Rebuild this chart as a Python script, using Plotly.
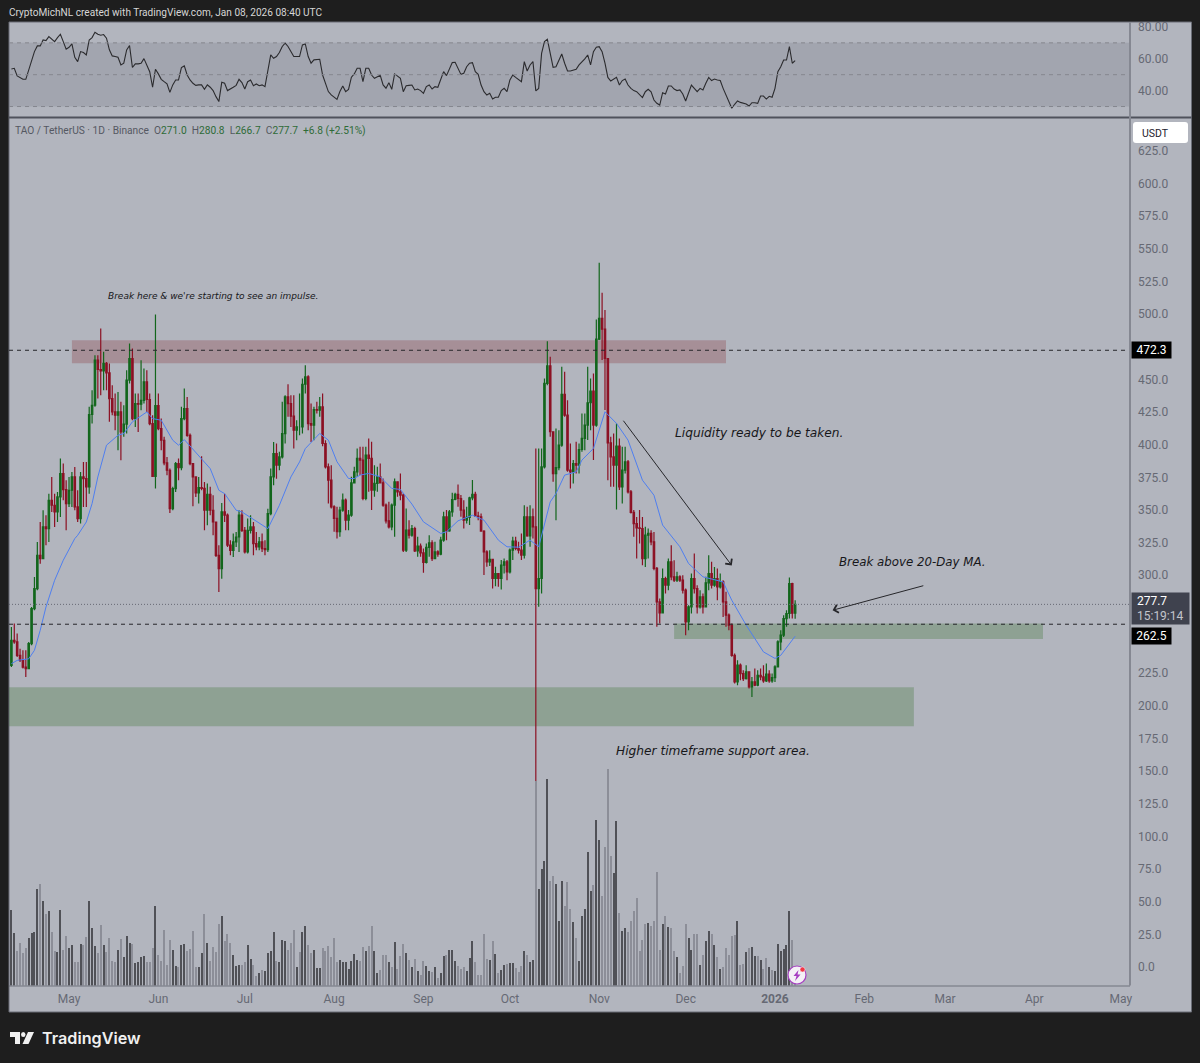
import pandas as pd
import plotly.graph_objects as go
from plotly.subplots import make_subplots

WIDTH = 1200
HEIGHT = 1063

# daily bars starting 2025-04-11
first_open = 231.0
closes = [
    250.2, 248.9, 238.7, 234.8, 229.7, 228.5, 247.6, 274.4, 289.8, 315.3,
    312.7, 337.0, 335.7, 357.4, 353.6, 348.5, 360.0, 377.9, 365.6, 354.9,
    365.1, 375.3, 352.3, 343.4, 375.3, 374.0, 367.7, 423.1, 430.2, 464.7,
    457.6, 456.5, 462.2, 455.0, 435.3, 425.1, 422.6, 425.1, 409.8, 415.7,
    449.4, 466.0, 420.0, 431.5, 431.0, 434.0, 448.1, 434.6, 416.2, 375.8,
    430.0, 412.3, 403.4, 386.0, 380.4, 351.0, 366.4, 385.5, 382.5, 420.0,
    427.7, 407.2, 385.5, 375.3, 363.0, 367.1, 366.6, 349.8, 362.0, 349.8,
    340.8, 315.3, 305.1, 348.5, 346.0, 323.0, 319.1, 325.5, 329.3, 346.0,
    334.4, 317.8, 334.4, 337.0, 324.2, 321.7, 325.5, 320.4, 319.6, 347.2,
    375.3, 393.2, 384.3, 390.6, 408.5, 436.6, 431.5, 421.8, 411.1, 413.6,
    413.6, 446.3, 451.9, 416.2, 415.0, 426.9, 426.4, 429.0, 400.9, 383.0,
    372.8, 352.4, 343.5, 333.3, 349.9, 357.5, 342.2, 346.0, 370.8, 379.2,
    389.5, 388.2, 358.8, 392.0, 389.5, 365.2, 370.3, 375.4, 370.8, 353.7,
    341.7, 337.1, 353.7, 371.6, 363.9, 361.4, 319.2, 334.5, 330.7, 335.8,
    318.7, 322.3, 317.2, 309.8, 321.3, 324.8, 312.8, 317.9, 316.2, 326.9,
    344.8, 334.0, 348.6, 358.0, 361.9, 358.8, 349.9, 342.2, 344.3, 359.3,
    361.9, 345.3, 344.8, 333.8, 317.9, 310.3, 312.1, 297.5, 301.3, 297.5,
    307.7, 310.3, 302.6, 319.2, 326.1, 320.5, 319.2, 315.4, 344.8, 330.2,
    344.8, 337.1, 289.8, 297.5, 383.0, 446.9, 460.4, 409.9, 377.9, 382.5,
    399.7, 438.5, 422.6, 380.5, 379.2, 385.6, 384.3, 396.3, 404.8, 415.0,
    432.1, 441.0, 415.0, 480.9, 496.7, 488.5, 466.0, 401.4, 390.7, 384.3,
    398.9, 367.7, 380.5, 386.9, 363.9, 348.1, 339.6, 336.3, 335.8, 312.8,
    330.7, 332.0, 325.6, 305.2, 279.6, 271.2, 297.5, 292.4, 310.3, 298.8,
    296.2, 298.8, 296.2, 288.6, 264.3, 275.8, 297.5, 289.8, 275.8, 283.4,
    275.8, 294.2, 301.3, 292.4, 297.5, 291.1, 294.9, 279.6, 269.4, 261.7,
    238.7, 218.3, 231.1, 224.7, 220.9, 226.0, 214.5, 218.3, 215.8, 223.4,
    222.1, 219.1, 224.2, 219.1, 221.6, 229.8, 249.0, 254.1, 266.8, 270.7,
    293.7, 271.0, 277.7,
]
highs = [
    260.4, 263.0, 255.3, 243.8, 242.5, 242.5, 248.9, 275.7, 298.7, 325.5,
    340.8, 349.8, 346.0, 362.5, 375.3, 362.5, 363.8, 389.4, 385.5, 372.8,
    375.3, 379.1, 383.0, 365.1, 379.1, 386.8, 386.8, 429.0, 441.7, 468.5,
    468.5, 489.0, 471.1, 463.4, 462.2, 445.5, 439.2, 440.4, 432.8, 430.2,
    457.0, 477.5, 473.6, 439.2, 439.2, 464.7, 458.3, 457.0, 439.2, 422.6,
    499.7, 439.2, 420.0, 406.0, 390.6, 381.7, 367.7, 386.8, 389.4, 429.0,
    443.0, 436.6, 408.5, 386.0, 375.3, 375.3, 391.2, 371.5, 370.2, 367.7,
    361.3, 340.8, 323.0, 355.4, 362.5, 347.2, 326.8, 331.9, 333.2, 349.8,
    349.8, 337.0, 343.4, 346.0, 340.8, 333.2, 329.3, 331.9, 326.8, 351.0,
    381.7, 402.1, 400.9, 394.5, 432.8, 437.9, 446.3, 437.9, 437.9, 418.7,
    439.2, 450.7, 460.9, 453.2, 431.5, 429.0, 432.8, 436.6, 439.2, 403.4,
    385.5, 384.3, 353.7, 352.4, 352.4, 362.6, 358.8, 349.9, 375.4, 383.1,
    397.1, 398.4, 398.4, 398.4, 404.8, 402.2, 384.3, 383.1, 385.6, 374.1,
    355.0, 356.3, 355.0, 374.1, 371.6, 378.0, 362.6, 351.1, 342.2, 338.4,
    337.1, 329.4, 324.3, 320.5, 324.3, 330.7, 326.9, 325.6, 319.2, 329.4,
    348.6, 349.9, 349.9, 363.2, 363.2, 369.5, 361.4, 357.5, 352.4, 360.1,
    372.9, 363.9, 348.6, 347.3, 334.5, 319.2, 319.2, 311.6, 306.5, 301.3,
    311.6, 312.8, 311.6, 320.5, 329.4, 329.4, 325.6, 332.0, 353.7, 352.4,
    353.7, 351.1, 397.1, 397.0, 397.0, 450.7, 479.3, 467.3, 406.0, 412.4,
    411.1, 459.7, 455.8, 434.1, 400.9, 388.2, 402.2, 400.9, 423.9, 423.9,
    459.7, 450.7, 454.6, 495.9, 539.4, 516.4, 503.1, 464.8, 406.0, 408.6,
    416.3, 404.8, 398.4, 398.4, 388.2, 365.2, 349.9, 344.7, 349.9, 344.7,
    337.1, 335.8, 334.5, 333.2, 306.4, 282.2, 305.2, 298.8, 312.8, 323.0,
    311.5, 302.6, 300.0, 300.0, 289.8, 277.1, 301.3, 316.7, 292.4, 288.6,
    286.0, 298.8, 315.4, 310.3, 306.4, 305.2, 301.3, 296.2, 287.3, 270.7,
    263.0, 240.0, 234.9, 232.4, 227.3, 231.1, 226.0, 222.1, 228.5, 227.3,
    228.5, 231.1, 232.4, 227.3, 224.7, 231.1, 250.2, 257.9, 269.4, 273.2,
    298.3, 294.2, 280.8,
]
lows = [
    229.7, 247.6, 237.4, 233.6, 228.5, 222.1, 228.5, 246.3, 273.2, 288.5,
    308.9, 312.7, 323.0, 325.5, 348.5, 337.0, 340.8, 344.7, 357.4, 334.4,
    352.3, 352.3, 349.8, 340.8, 339.6, 352.3, 352.3, 362.5, 416.2, 429.0,
    435.3, 437.9, 441.7, 441.7, 417.5, 422.6, 411.1, 395.7, 388.1, 406.0,
    408.5, 446.8, 418.7, 413.6, 409.8, 426.4, 431.5, 425.1, 414.9, 375.3,
    366.4, 411.1, 395.7, 384.3, 376.6, 347.7, 349.8, 363.8, 372.8, 380.4,
    418.7, 406.0, 384.3, 352.8, 360.0, 354.9, 365.1, 334.4, 338.3, 346.0,
    330.6, 314.0, 287.2, 297.4, 340.8, 321.7, 315.3, 314.0, 321.7, 317.8,
    333.2, 316.6, 316.6, 331.9, 315.3, 319.1, 319.1, 317.8, 315.3, 317.8,
    346.0, 368.9, 374.0, 380.4, 389.4, 400.9, 421.3, 413.6, 397.0, 403.4,
    407.2, 408.5, 439.2, 411.1, 402.1, 403.4, 423.8, 421.3, 398.8, 381.7,
    354.9, 351.1, 333.3, 328.2, 329.4, 348.6, 334.5, 334.5, 344.8, 370.3,
    375.4, 376.7, 357.5, 357.5, 363.9, 349.9, 360.1, 363.9, 370.3, 352.4,
    339.7, 335.8, 334.5, 329.4, 360.1, 357.5, 317.9, 317.9, 328.2, 329.4,
    317.9, 314.1, 314.1, 301.9, 309.0, 314.1, 311.0, 312.8, 314.1, 315.4,
    325.6, 326.9, 333.3, 344.8, 357.5, 352.4, 344.8, 335.8, 339.7, 338.4,
    357.5, 344.8, 342.2, 333.3, 300.1, 306.5, 307.0, 289.9, 291.6, 291.1,
    289.1, 301.3, 296.2, 301.3, 311.6, 319.2, 316.7, 311.6, 312.8, 329.4,
    321.8, 328.2, 140.6, 275.8, 286.0, 381.8, 445.6, 406.0, 371.6, 342.2,
    380.5, 398.4, 421.4, 379.2, 366.4, 370.3, 377.9, 377.9, 394.5, 395.8,
    403.5, 411.1, 388.2, 413.7, 480.1, 464.8, 426.5, 372.8, 367.7, 367.7,
    350.4, 365.2, 355.0, 378.0, 362.6, 347.3, 329.4, 312.8, 324.3, 307.7,
    306.4, 312.8, 323.0, 303.9, 260.5, 263.0, 270.7, 286.0, 288.6, 296.2,
    294.9, 294.9, 294.9, 286.0, 254.1, 257.9, 270.7, 286.0, 270.7, 274.5,
    270.7, 275.8, 288.6, 289.8, 291.1, 280.9, 289.8, 268.1, 260.5, 257.9,
    237.5, 217.0, 215.8, 219.6, 219.1, 220.1, 213.2, 206.8, 215.0, 215.0,
    219.6, 217.6, 218.3, 217.6, 217.6, 218.3, 229.3, 242.6, 252.8, 260.5,
    266.8, 266.8, 266.7,
]
volumes = [
    75.3, 52.3, 35.0, 42.3, 32.3, 37.3, 47.3, 52.3, 54.0, 97.0,
    102.0, 84.3, 71.3, 74.3, 54.0, 35.0, 33.3, 76.0, 35.7, 50.0,
    37.3, 40.7, 23.3, 24.0, 41.7, 40.7, 49.0, 84.3, 57.3, 39.7,
    32.3, 60.3, 40.7, 34.0, 47.3, 24.7, 24.0, 35.7, 46.3, 29.0,
    50.0, 42.3, 41.7, 22.3, 23.3, 29.0, 30.0, 23.3, 24.0, 37.3,
    79.3, 30.3, 24.7, 55.7, 20.3, 46.0, 35.7, 19.7, 18.3, 40.7,
    41.7, 35.0, 36.3, 55.0, 19.0, 19.0, 32.3, 71.3, 42.3, 24.7,
    39.0, 34.0, 61.7, 69.3, 45.0, 51.7, 42.3, 30.3, 19.7, 20.3,
    20.3, 24.0, 40.7, 26.3, 20.3, 9.7, 12.3, 15.3, 14.7, 33.0,
    34.7, 54.0, 24.7, 23.3, 45.7, 45.0, 35.7, 43.0, 55.7, 19.0,
    33.3, 54.0, 60.0, 40.7, 33.0, 35.7, 17.3, 17.3, 37.3, 34.7,
    39.7, 29.0, 47.3, 24.0, 25.3, 23.3, 23.3, 16.3, 24.7, 31.3,
    25.3, 24.7, 39.0, 34.7, 40.0, 60.0, 34.7, 12.3, 15.3, 30.7,
    30.7, 23.3, 18.3, 44.0, 16.3, 29.7, 41.3, 33.0, 25.3, 18.3,
    26.3, 14.7, 11.0, 24.7, 20.0, 14.3, 13.3, 18.7, 7.7, 12.7,
    29.3, 31.0, 35.3, 35.3, 24.7, 20.0, 16.7, 18.7, 15.0, 27.7,
    44.7, 23.7, 11.0, 11.0, 52.0, 26.7, 26.0, 44.7, 32.0, 12.7,
    16.0, 21.0, 22.0, 22.7, 22.7, 17.7, 13.3, 19.3, 34.3, 31.0,
    23.7, 26.0, 204.3, 96.7, 116.7, 125.0, 207.0, 105.0, 109.3, 101.7,
    64.7, 105.0, 80.0, 103.3, 76.3, 64.0, 48.0, 24.7, 70.0, 76.7,
    133.7, 95.0, 101.0, 166.0, 146.0, 90.0, 138.7, 217.0, 130.0, 112.7,
    164.7, 72.3, 54.7, 58.0, 53.3, 64.7, 74.7, 88.0, 34.7, 45.3,
    62.0, 62.7, 60.0, 64.7, 114.0, 35.3, 61.3, 70.0, 58.7, 57.3,
    34.7, 28.7, 12.7, 20.0, 62.0, 48.0, 36.0, 52.0, 52.0, 21.0,
    31.0, 44.7, 54.7, 51.3, 40.3, 28.7, 17.0, 18.7, 38.0, 31.0,
    49.3, 50.7, 64.7, 21.0, 22.0, 33.7, 37.7, 38.7, 29.3, 29.3,
    25.3, 17.0, 27.7, 18.7, 16.0, 14.3, 42.0, 34.3, 37.0, 40.3,
    74.7, 45.3, 13.0,
]
# D = darker bar, L = lighter bar
volume_side = list(
    "DDLLLLDDDD" "LDLDLLDDLL" "DDLLDLLDDD" "LLDLLLLDLD" "DDLDDDDLLL"
    "DLLLLLDDLD" "DLLLLDDLDL" "LLLDLLLDDD" "LLDDLLDLDD" "DDLDDDLLLD"
    "LDDLLDDDLL" "LLLLDDDDDD" "DLLDLLDDLL" "LDLDLLLDLD" "LDLLDDLDLD"
    "DLDDDLLLDD" "DLLLLLDLDL" "DDLDDLLLDL" "DDLDDDDLLD" "DDLLLDLDDD"
    "DDLDDLLLLD" "DLDDLLLLLL" "LDLLLLDLDL" "LDLLLDDLLD" "LDDLDLDLLL"
    "LLDLLDLDDL" "DLLDLDDDDD" "DLL"
)
rsi = [
    53.6, 54.0, 49.2, 48.2, 47.1, 47.1, 53.0, 59.3, 64.5, 68.1,
    68.1, 71.8, 71.4, 73.9, 72.3, 70.8, 73.3, 75.4, 70.8, 66.0,
    67.2, 69.3, 60.9, 58.2, 64.5, 63.9, 62.4, 71.8, 73.3, 76.7,
    75.4, 74.8, 75.2, 72.9, 65.6, 61.8, 61.4, 60.9, 56.1, 57.2,
    65.6, 68.3, 54.5, 56.8, 56.8, 57.2, 60.1, 56.1, 51.9, 42.1,
    53.4, 50.5, 47.1, 45.6, 44.2, 38.9, 43.6, 46.7, 46.7, 54.5,
    55.5, 49.8, 46.7, 44.6, 43.3, 43.6, 43.6, 40.8, 43.6, 42.1,
    40.0, 36.2, 33.1, 45.2, 44.6, 40.0, 40.8, 42.1, 43.3, 47.1,
    45.0, 41.0, 45.6, 46.7, 43.1, 44.2, 43.1, 43.6, 42.5, 53.0,
    62.4, 60.3, 61.4, 63.9, 67.7, 69.8, 67.7, 64.5, 61.4, 61.4,
    61.4, 68.7, 69.3, 61.4, 57.2, 59.3, 59.7, 59.7, 49.8, 44.6,
    39.4, 37.3, 35.8, 34.5, 39.4, 42.9, 39.4, 40.8, 48.4, 50.5,
    54.0, 54.0, 45.6, 54.0, 54.0, 49.8, 47.7, 48.8, 49.6, 43.6,
    41.5, 45.0, 40.8, 50.5, 48.8, 47.7, 39.3, 43.1, 43.3, 43.5,
    40.4, 41.0, 40.0, 38.3, 42.5, 43.5, 41.0, 42.5, 42.1, 46.7,
    51.9, 49.4, 53.0, 57.6, 57.8, 54.0, 50.2, 50.9, 55.0, 57.2,
    57.6, 51.9, 50.2, 43.5, 39.3, 37.2, 38.3, 34.7, 35.8, 35.8,
    40.0, 41.4, 39.3, 46.7, 49.8, 48.3, 46.7, 45.6, 58.2, 52.3,
    56.1, 58.2, 39.8, 41.4, 63.4, 70.8, 72.2, 63.4, 54.6, 55.0,
    59.2, 63.0, 57.2, 52.3, 52.3, 53.0, 53.4, 56.1, 57.8, 59.9,
    62.4, 56.1, 64.5, 67.2, 67.6, 64.5, 57.2, 48.3, 46.0, 47.3,
    48.3, 43.5, 46.3, 47.3, 43.5, 41.4, 40.0, 39.3, 37.2, 35.6,
    39.3, 40.8, 39.3, 34.1, 32.0, 30.9, 38.7, 37.9, 42.9, 42.9,
    41.0, 40.0, 40.4, 37.9, 33.5, 38.3, 43.5, 41.4, 39.3, 41.4,
    40.4, 44.6, 48.3, 46.3, 47.3, 46.7, 46.3, 41.4, 37.2, 33.0,
    28.9, 31.4, 33.5, 32.6, 32.0, 31.6, 30.3, 32.4, 32.4, 32.0,
    36.6, 36.6, 34.7, 36.4, 35.8, 41.4, 51.9, 55.0, 59.2, 59.2,
    67.6, 57.2, 58.8,
]
# 20-day MA at these bar numbers
ma_bars = [
    0, 2, 6, 8, 10, 12, 15, 18, 22, 23, 26, 28, 30, 33, 37, 39, 42, 47, 49, 52,
    56, 58, 60, 65, 69, 72, 74, 78, 80, 89, 93, 97, 100, 102, 107, 110, 113, 117,
    119, 121, 124, 128, 132, 135, 139, 143, 149, 151, 155, 160, 164, 169, 172,
    176, 180, 183, 185, 187, 189, 192, 196, 198, 202, 206, 210, 214, 219, 223,
    226, 232, 235, 240, 247, 250, 255, 261, 265, 267, 272,
]
ma_values = [
    232.3, 234.8, 236.0, 242.5, 257.9, 275.7, 296.1, 311.5, 328.1, 330.6, 340.8,
    354.9, 375.3, 399.6, 407.2, 408.5, 417.5, 425.1, 420.0, 418.7, 403.4, 399.6,
    403.9, 391.9, 381.7, 365.1, 362.5, 349.8, 348.5, 335.7, 353.6, 375.3, 386.8,
    397.0, 408.6, 403.5, 386.9, 374.1, 374.1, 376.7, 378.0, 375.4, 366.5, 365.7,
    354.5, 340.9, 332.0, 333.3, 341.7, 346.0, 342.2, 326.9, 321.8, 321.5, 326.9,
    321.8, 339.6, 356.2, 362.6, 376.7, 379.2, 388.2, 397.1, 425.2, 416.3, 403.5,
    372.8, 361.3, 338.4, 321.8, 309.0, 298.8, 294.9, 280.9, 261.8, 241.3, 236.3,
    238.7, 253.3,
]
# 250, 275 and 475 sit behind the price tags
price_ticks = [0, 25, 50, 75, 100, 125, 150, 175, 200, 225, 300, 325, 350, 375, 400, 425,
               450, 500, 525, 550, 575, 600, 625]
rsi_ticks = [40, 60, 80]
rsi_levels = [30, 50, 70]
month_ticks = [
    "2025-05-01", "2025-06-01", "2025-07-01", "2025-08-01", "2025-09-01", "2025-10-01",
    "2025-11-01", "2025-12-01", "2026-01-01", "2026-02-01", "2026-03-01", "2026-04-01",
    "2026-05-01",
]
month_labels = ["May", "Jun", "Jul", "Aug", "Sep", "Oct", "Nov", "Dec", "<b>2026</b>",
                "Feb", "Mar", "Apr", "May"]

dates = pd.date_range("2025-04-11", periods=len(closes))
opens = [first_open] + closes[:-1]
ma_dates = [dates[i] for i in ma_bars]

BG = "#b2b5be"
DARK = "#1e1e1e"
AXIS_TEXT = "#666974"
FONT = "Roboto"
NOTE_FONT = "DejaVu Sans"


def px(x):
    return x / WIDTH


def py(y):
    return 1 - y / HEIGHT


fig = make_subplots(rows=2, cols=1, shared_xaxes=True)

fig.add_trace(go.Scatter(x=dates, y=rsi, mode="lines", line=dict(color="#2b2b2e", width=1.1),
                         showlegend=False), row=1, col=1)
fig.add_trace(go.Candlestick(x=dates, open=opens, high=highs, low=lows, close=closes,
                             increasing=dict(line=dict(color="#12661c", width=1.2), fillcolor="#12661c"),
                             decreasing=dict(line=dict(color="#8c1023", width=1.2), fillcolor="#8c1023"),
                             whiskerwidth=0, showlegend=False), row=2, col=1)
fig.add_trace(go.Scatter(x=ma_dates, y=ma_values, mode="lines", line=dict(color="#4f7ff0", width=1),
                         showlegend=False), row=2, col=1)
fig.add_trace(go.Bar(x=dates, y=volumes, xaxis="x2", yaxis="y3", width=32000000,
                     marker=dict(color=["#505157" if s == "D" else "#8c8e98" for s in volume_side],
                                 line=dict(width=0)),
                     showlegend=False))

x_range = ["2025-04-10 04:00", "2026-05-04 05:00"]
fig.update_layout(
    width=WIDTH, height=HEIGHT, margin=dict(l=0, r=0, t=0, b=0, autoexpand=False),
    paper_bgcolor=DARK, plot_bgcolor="rgba(0,0,0,0)",
    font=dict(family=FONT, size=12, color=AXIS_TEXT), bargap=0,
    xaxis=dict(domain=[px(9), px(1130)], range=x_range, showticklabels=False, showgrid=False,
               zeroline=False, matches="x2"),
    xaxis2=dict(domain=[px(9), px(1130)], range=x_range, rangeslider=dict(visible=False),
                tickmode="array", tickvals=month_ticks, ticktext=month_labels, ticks="",
                showgrid=False, zeroline=False, tickfont=dict(size=12, color=AXIS_TEXT),
                ticklabelstandoff=4),
    yaxis=dict(domain=[py(117.5), py(22)], range=[23.1, 83.1], side="right", tickmode="array",
               tickvals=rsi_ticks, tickformat=".2f", ticks="", showgrid=False, zeroline=False,
               ticklabelstandoff=7),
    yaxis2=dict(domain=[py(985.5), py(118)], range=[-14.2, 650.2], side="right", tickmode="array",
                tickvals=price_ticks, tickformat=".1f", ticks="", showgrid=False, zeroline=False,
                ticklabelstandoff=7),
    yaxis3=dict(domain=[py(985.5), py(118)], range=[0, 867.5], overlaying="y2", visible=False),
)

shapes = [
    # panel background and frame
    dict(type="rect", xref="paper", yref="paper", x0=px(9), x1=px(1191.5), y0=py(1012), y1=py(22),
         fillcolor=BG, line=dict(color="#6a6d76", width=1), layer="below"),
    # rsi band
    dict(type="rect", xref="x domain", yref="y", x0=0, x1=1, y0=30, y1=70,
         fillcolor="rgba(115,118,130,0.25)", line=dict(width=0), layer="below"),
    # zones
    dict(type="rect", xref="x2", yref="y2", x0="2025-05-02", x1="2025-12-15", y0=462.4, y1=480,
         fillcolor="rgba(144,72,79,0.35)", line=dict(width=0), layer="below"),
    dict(type="rect", xref="x2", yref="y2", x0="2025-04-10 04:00", x1="2026-02-18 05:00", y0=184.3, y1=214.2,
         fillcolor="rgba(75,124,70,0.35)", line=dict(width=0), layer="below"),
    dict(type="rect", xref="x2", yref="y2", x0="2025-11-27", x1="2026-04-04", y0=251.2, y1=263,
         fillcolor="rgba(75,124,70,0.35)", line=dict(width=0), layer="below"),
    # level lines
    dict(type="line", xref="x2 domain", yref="y2", x0=0, x1=1, y0=472.3, y1=472.3,
         line=dict(color="#26262a", width=1, dash="4px,4px")),
    dict(type="line", xref="x2 domain", yref="y2", x0=0, x1=1, y0=262.5, y1=262.5,
         line=dict(color="#26262a", width=1, dash="4px,4px")),
    dict(type="line", xref="x2 domain", yref="y2", x0=0, x1=1, y0=277.7, y1=277.7,
         line=dict(color="#666974", width=1, dash="1px,2px")),
    # pane separators
    dict(type="line", xref="paper", yref="paper", x0=px(9), x1=px(1191.5), y0=py(117.5), y1=py(117.5),
         line=dict(color="#4f525c", width=2)),
    dict(type="line", xref="paper", yref="paper", x0=px(1130), x1=px(1130), y0=py(985.5), y1=py(22),
         line=dict(color="#858892", width=2)),
    dict(type="line", xref="paper", yref="paper", x0=px(9), x1=px(1130), y0=py(986), y1=py(986),
         line=dict(color="#6f727c", width=1)),
    # USDT pill
    dict(type="path", xref="paper", yref="paper", line=dict(width=0), fillcolor="#ffffff",
         path=f"M{px(1136)},{py(122)} L{px(1185)},{py(122)} Q{px(1188)},{py(122)} {px(1188)},{py(125)} "
              f"L{px(1188)},{py(140)} Q{px(1188)},{py(143)} {px(1185)},{py(143)} L{px(1136)},{py(143)} "
              f"Q{px(1133)},{py(143)} {px(1133)},{py(140)} L{px(1133)},{py(125)} Q{px(1133)},{py(122)} {px(1136)},{py(122)} Z"),
    # TradingView mark
    dict(type="path", xref="paper", yref="paper", line=dict(width=0), fillcolor="#f0f0f0",
         path=f"M{px(10)},{py(1032)} L{px(20)},{py(1032)} L{px(20)},{py(1044)} L{px(15)},{py(1044)} "
              f"L{px(15)},{py(1037)} L{px(10)},{py(1037)} Z"),
    dict(type="circle", xref="paper", yref="paper", x0=px(21), x1=px(25.5), y0=py(1037), y1=py(1032),
         fillcolor="#f0f0f0", line=dict(width=0)),
    dict(type="path", xref="paper", yref="paper", line=dict(width=0), fillcolor="#f0f0f0",
         path=f"M{px(28)},{py(1032)} L{px(34)},{py(1032)} L{px(28.5)},{py(1044)} L{px(22.5)},{py(1044)} Z"),
    # lightning badge
    dict(type="circle", xref="paper", yref="paper", x0=px(788), x1=px(806), y0=py(984), y1=py(966),
         fillcolor="#f4f0f6", line=dict(color="#a63ec2", width=1.2)),
    dict(type="path", xref="paper", yref="paper", line=dict(width=0), fillcolor="#a63ec2",
         path=f"M{px(798.5)},{py(970)} L{px(793.5)},{py(976)} L{px(796.5)},{py(976)} L{px(795)},{py(981)} "
              f"L{px(800.5)},{py(974.5)} L{px(797.5)},{py(974.5)} Z"),
    dict(type="circle", xref="paper", yref="paper", x0=px(800), x1=px(805), y0=py(972), y1=py(967),
         fillcolor="#f23645", line=dict(color="#f4f0f6", width=0.5)),
]
for level in rsi_levels:
    shapes.append(dict(type="line", xref="x domain", yref="y", x0=0, x1=1, y0=level, y1=level,
                       line=dict(color="#85878f", width=1, dash="4px,4px")))
fig.update_layout(shapes=shapes)

GREEN = "#2e6b37"
header = (f'<span style="color:#555862">TAO / TetherUS · 1D · Binance</span>&nbsp;&nbsp;'
          f'O<span style="color:{GREEN}">271.0</span>&nbsp;&nbsp;H<span style="color:{GREEN}">280.8</span>&nbsp;&nbsp;'
          f'L<span style="color:{GREEN}">266.7</span>&nbsp;&nbsp;C<span style="color:{GREEN}">277.7</span>&nbsp;&nbsp;'
          f'<span style="color:{GREEN}">+6.8 (+2.51%)</span>')

notes = [
    ("Break here & we're starting to see an impulse.", "2025-05-14", 513.7, 9),
    ("Liquidity ready to be taken.", "2025-11-26 12:00", 409.2, 12.2),
    ("Break above 20-Day MA.", "2026-01-22 12:00", 310.0, 11.8),
    ("Higher timeframe support area.", "2025-11-06", 165.2, 12.2),
]
annotations = [
    dict(xref="paper", yref="paper", x=px(7), y=py(12.5), xanchor="left", yanchor="middle", showarrow=False,
         text="CryptoMichNL created with TradingView.com, Jan 08, 2026 08:40 UTC",
         font=dict(family=FONT, size=10.1, color="#d6d6d6")),
    dict(xref="paper", yref="paper", x=px(13), y=py(130.5), xanchor="left", yanchor="middle", showarrow=False,
         text=header, font=dict(family=FONT, size=10.2, color="#555862")),
    dict(xref="paper", yref="paper", x=px(40), y=py(1037.5), xanchor="left", yanchor="middle", showarrow=False,
         text="TradingView", font=dict(family="Inter", size=16.2, color="#f0f0f0", weight=600)),
    dict(xref="paper", yref="paper", x=px(1140), y=py(133), xanchor="left", yanchor="middle", showarrow=False,
         text="USDT", font=dict(family=FONT, size=10.5, color="#1e222d")),
    dict(xref="paper", yref="y2", x=px(1131), y=472.3, xanchor="left", yanchor="middle", showarrow=False,
         text="472.3", bgcolor="#000000", align="center", width=35, height=12, borderpad=2,
         font=dict(family=FONT, size=12, color="#ffffff")),
    dict(xref="paper", yref="y2", x=px(1131), y=274.3, xanchor="left", yanchor="middle", showarrow=False,
         text="&nbsp;277.7<br>&nbsp;<span style='color:#c3c5cc'>15:19:14</span>", bgcolor="#3f424e", align="left",
         width=53, height=27, borderpad=2, font=dict(family=FONT, size=12, color="#ffffff")),
    dict(xref="paper", yref="y2", x=px(1131), y=253.5, xanchor="left", yanchor="middle", showarrow=False,
         text="262.5", bgcolor="#000000", align="center", width=35, height=12, borderpad=2,
         font=dict(family=FONT, size=12, color="#ffffff")),
    # trend arrows
    dict(xref="x2", yref="y2", axref="x2", ayref="y2", x="2025-12-17", y=307.5, ax="2025-11-09", ay=419.5,
         text="", showarrow=True, arrowhead=4, arrowsize=1.6, arrowwidth=1, arrowcolor="#26262a"),
    dict(xref="x2", yref="y2", axref="x2", ayref="y2", x="2026-01-21", y=273.2, ax="2026-02-22", ay=292.3,
         text="", showarrow=True, arrowhead=4, arrowsize=1.6, arrowwidth=1, arrowcolor="#26262a"),
]
for text, day, price, size in notes:
    annotations.append(dict(xref="x2", yref="y2", x=day, y=price, xanchor="left", yanchor="middle",
                            showarrow=False, text=f"<i>{text}</i>",
                            font=dict(family=NOTE_FONT, size=size, color="#17171a")))
fig.update_layout(annotations=annotations)

fig.write_html("out.html", config={"displayModeBar": False},
               post_script="document.body.style.margin='0';")
